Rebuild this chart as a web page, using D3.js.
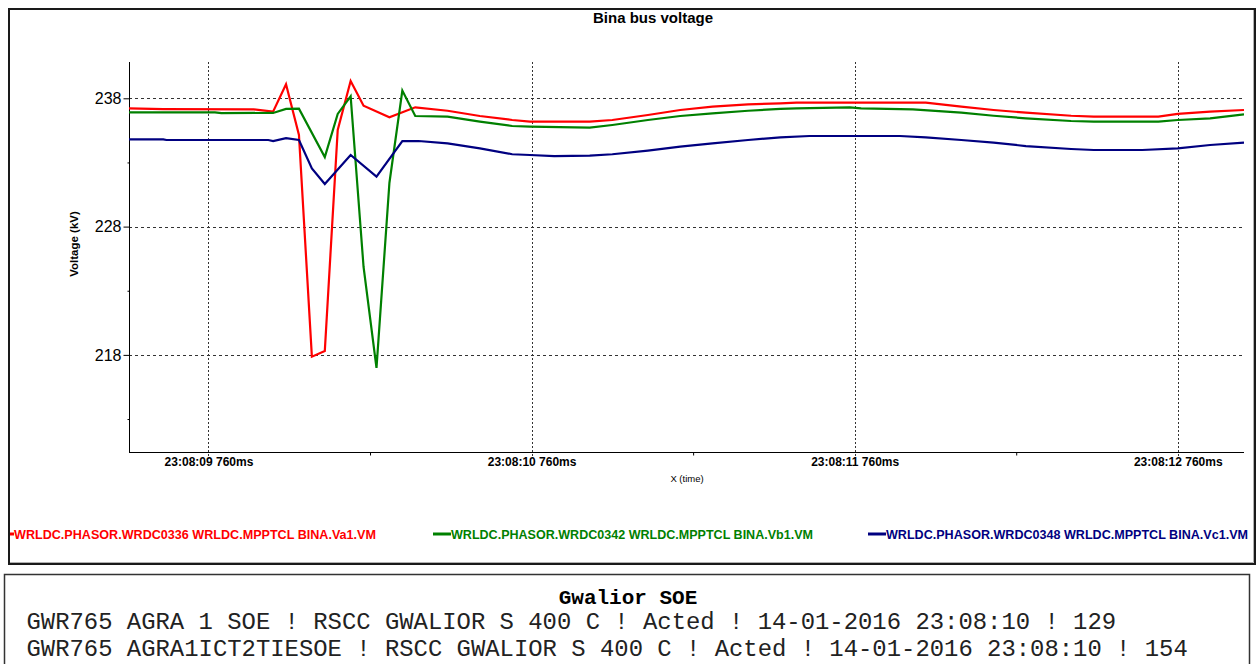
<!DOCTYPE html>
<html>
<head>
<meta charset="utf-8">
<script src="https://cdn.jsdelivr.net/npm/d3@7/dist/d3.min.js"></script>
<style>
  html, body { margin: 0; padding: 0; background: #fff; }
  svg { display: block; }
</style>
</head>
<body>
<script>
// ---------------- data ----------------
const chartTitle = "Bina bus voltage";
const yAxisTitle = "Voltage (kV)";
const xAxisTitle = "X (time)";

// time in seconds after 23:08:00
const xTickTimes = [9.76, 10.76, 11.76, 12.76];
const xTickLabels = ["23:08:09 760ms", "23:08:10 760ms", "23:08:11 760ms", "23:08:12 760ms"];
const xMinorTimes = [10.26, 11.26, 12.26];
const yTickValues = [218, 228, 238];
const yMinorValues = [213, 223, 233];

const seriesNames = [
  "WRLDC.PHASOR.WRDC0336 WRLDC.MPPTCL BINA.Va1.VM",
  "WRLDC.PHASOR.WRDC0342 WRLDC.MPPTCL BINA.Vb1.VM",
  "WRLDC.PHASOR.WRDC0348 WRLDC.MPPTCL BINA.Vc1.VM"
];
const seriesColors = ["#ff0000", "#008000", "#000080"];

const vaTimes  = [9.514, 9.62, 9.90, 9.96, 10.00, 10.04, 10.08, 10.12, 10.16, 10.20, 10.24, 10.32, 10.40, 10.50, 10.60, 10.70, 10.755, 10.94, 11.01, 11.12, 11.22, 11.32, 11.43, 11.53, 11.58, 11.98, 12.09, 12.19, 12.29, 12.43, 12.50, 12.70, 12.76, 12.86, 12.965];
const vaValues = [237.22, 237.16, 237.14, 236.96, 239.09, 235.14, 217.86, 218.30, 235.53, 239.35, 237.42, 236.52, 237.30, 237.03, 236.62, 236.31, 236.18, 236.18, 236.31, 236.70, 237.09, 237.35, 237.53, 237.61, 237.66, 237.66, 237.35, 237.09, 236.88, 236.64, 236.57, 236.57, 236.78, 236.96, 237.09];

const vbTimes  = [9.514, 9.78, 9.80, 9.96, 10.00, 10.04, 10.12, 10.16, 10.20, 10.24, 10.28, 10.32, 10.36, 10.40, 10.50, 10.60, 10.70, 10.755, 10.94, 11.01, 11.12, 11.22, 11.32, 11.43, 11.53, 11.58, 11.745, 11.78, 11.94, 12.09, 12.19, 12.29, 12.43, 12.50, 12.70, 12.76, 12.86, 12.965];
const vbValues = [236.91, 236.91, 236.85, 236.86, 237.17, 237.19, 233.42, 236.78, 238.16, 224.85, 216.98, 231.40, 238.60, 236.62, 236.57, 236.18, 235.84, 235.79, 235.71, 235.92, 236.31, 236.62, 236.83, 237.03, 237.17, 237.22, 237.30, 237.22, 237.14, 236.88, 236.64, 236.44, 236.23, 236.18, 236.18, 236.31, 236.44, 236.75];

const vcTimes  = [9.514, 9.62, 9.63, 9.945, 9.96, 10.00, 10.04, 10.08, 10.12, 10.20, 10.28, 10.36, 10.41, 10.50, 10.60, 10.70, 10.755, 10.83, 10.94, 11.01, 11.12, 11.22, 11.32, 11.43, 11.53, 11.62, 11.90, 11.98, 12.09, 12.19, 12.29, 12.43, 12.50, 12.65, 12.76, 12.86, 12.965];
const vcValues = [234.80, 234.80, 234.75, 234.75, 234.67, 234.90, 234.75, 232.54, 231.32, 233.58, 231.89, 234.67, 234.67, 234.49, 234.10, 233.64, 233.58, 233.50, 233.53, 233.64, 233.92, 234.23, 234.49, 234.75, 234.96, 235.06, 235.06, 234.96, 234.75, 234.54, 234.28, 234.05, 233.97, 233.97, 234.10, 234.36, 234.54];

const soeTitle = "Gwalior SOE";
const soeLines = [
  "GWR765 AGRA 1 SOE ! RSCC GWALIOR S 400 C ! Acted ! 14-01-2016 23:08:10 ! 129",
  "GWR765 AGRA1ICT2TIESOE ! RSCC GWALIOR S 400 C ! Acted ! 14-01-2016 23:08:10 ! 154"
];

const xDomain = [9.514, 12.965];
const yDomain = [210.43, 240.83];

// ---------------- drawing ----------------
const W = 1259, H = 664;
const plot = { left: 129, right: 1244, top: 62, bottom: 452 };
const sans = "'Liberation Sans', Arial, sans-serif";
const mono = "'Liberation Mono', 'Courier New', monospace";

const svg = d3.select("body").append("svg").attr("width", W).attr("height", H);

// outer chart frame
svg.append("rect").attr("x", 9).attr("y", 9).attr("width", 1246).attr("height", 555)
  .attr("fill", "#fff").attr("stroke", "#1a1a1a").attr("stroke-width", 2);
svg.append("path").attr("d", "M10,562.5 H1253.5 V10")
  .attr("fill", "none").attr("stroke", "#b0b0b0").attr("stroke-width", 1);

const x = d3.scaleLinear().domain(xDomain).range([plot.left, plot.right]);
const y = d3.scaleLinear().domain(yDomain).range([plot.bottom, plot.top]);

// title
svg.append("text").attr("x", 653).attr("y", 23).attr("text-anchor", "middle")
  .attr("font-family", sans).attr("font-weight", "bold").attr("font-size", 15)
  .text(chartTitle);

// grid
const grid = svg.append("g");
grid.selectAll("line.hg").data(yTickValues).join("line")
  .attr("x1", plot.left).attr("x2", plot.right)
  .attr("y1", d => Math.round(y(d)) + 0.5).attr("y2", d => Math.round(y(d)) + 0.5)
  .attr("stroke", "#333").attr("stroke-width", 1).attr("stroke-dasharray", "3,3");
grid.selectAll("line.vg").data(xTickTimes).join("line")
  .attr("x1", d => Math.round(x(d)) + 0.5).attr("x2", d => Math.round(x(d)) + 0.5)
  .attr("y1", plot.top).attr("y2", plot.bottom + 5)
  .attr("stroke", "#333").attr("stroke-width", 1).attr("stroke-dasharray", "2,2");

// axes
const yAxis = d3.axisLeft(y).tickValues(yTickValues).tickSize(6).tickPadding(2).tickFormat(d3.format("d"));
const gy = svg.append("g").attr("transform", `translate(${plot.left + 0.5},0)`).call(yAxis);
gy.select(".domain").attr("d", `M0,${plot.top}V${plot.bottom}`).attr("stroke", "#000");
gy.selectAll(".tick text").attr("font-family", sans).attr("font-size", 16).attr("fill", "#000");
gy.selectAll(".tick line").attr("stroke", "#000");

const yMinorAxis = d3.axisLeft(y).tickValues(yMinorValues).tickSize(2).tickFormat("");
const gym = svg.append("g").attr("transform", `translate(${plot.left + 0.5},0)`).call(yMinorAxis);
gym.select(".domain").remove();

const xAxis = d3.axisBottom(x).tickValues(xTickTimes).tickSize(0).tickPadding(5)
  .tickFormat((d, i) => xTickLabels[i]);
const gx = svg.append("g").attr("transform", `translate(0,${plot.bottom + 0.5})`).call(xAxis);
gx.select(".domain").attr("d", `M${plot.left},0H${plot.right}`).attr("stroke", "#000");
gx.selectAll(".tick text").attr("font-family", sans).attr("font-weight", "bold")
  .attr("font-size", 12).attr("fill", "#000");

const xMinorAxis = d3.axisBottom(x).tickValues(xMinorTimes).tickSize(3).tickFormat("");
const gxm = svg.append("g").attr("transform", `translate(0,${plot.bottom + 0.5})`).call(xMinorAxis);
gxm.select(".domain").remove();

// axis titles
svg.append("text").attr("transform", "translate(78,244) rotate(-90)").attr("text-anchor", "middle")
  .attr("font-family", sans).attr("font-weight", "bold").attr("font-size", 11.5).text(yAxisTitle);
svg.append("text").attr("x", 687).attr("y", 482).attr("text-anchor", "middle")
  .attr("font-family", sans).attr("font-size", 9.5).text(xAxisTitle);

// lines
svg.append("clipPath").attr("id", "plotclip").append("rect")
  .attr("x", plot.left).attr("y", plot.top).attr("width", plot.right - plot.left).attr("height", plot.bottom - plot.top);
const series = [
  { times: vaTimes, values: vaValues },
  { times: vbTimes, values: vbValues },
  { times: vcTimes, values: vcValues }
];
const line = d3.line().x(d => x(d[0])).y(d => y(d[1]));
const lg = svg.append("g").attr("clip-path", "url(#plotclip)");
series.forEach((s, i) => {
  lg.append("path").datum(s.times.map((t, k) => [t, s.values[k]]))
    .attr("d", line).attr("fill", "none").attr("stroke", seriesColors[i])
    .attr("stroke-width", 2.2).attr("stroke-linejoin", "miter");
});

// legend
svg.append("clipPath").attr("id", "frameclip").append("rect")
  .attr("x", 10).attr("y", 10).attr("width", 1244).attr("height", 552);
const legend = svg.append("g").attr("clip-path", "url(#frameclip)");
const legendX = [-4, 433, 868];
seriesNames.forEach((name, i) => {
  legend.append("line").attr("x1", legendX[i]).attr("x2", legendX[i] + 18)
    .attr("y1", 534).attr("y2", 534).attr("stroke", seriesColors[i]).attr("stroke-width", 3);
  legend.append("text").attr("x", legendX[i] + 18).attr("y", 538.5)
    .attr("font-family", sans).attr("font-weight", "bold").attr("font-size", 12.5)
    .attr("fill", seriesColors[i]).attr("textLength", 362).attr("lengthAdjust", "spacingAndGlyphs")
    .text(name);
});

// SOE box
svg.append("rect").attr("x", 4.5).attr("y", 574.5).attr("width", 1245).attr("height", 110)
  .attr("fill", "#fff").attr("stroke", "#333").attr("stroke-width", 1.5);
svg.append("text").attr("x", 628).attr("y", 604).attr("text-anchor", "middle")
  .attr("font-family", mono).attr("font-weight", "bold").attr("font-size", 21).text(soeTitle);
soeLines.forEach((t, i) => {
  svg.append("text").attr("x", 26.5).attr("y", 629 + i * 27)
    .attr("font-family", mono).attr("font-size", 23.9).attr("fill", "#222").text(t);
});
</script>
</body>
</html>
